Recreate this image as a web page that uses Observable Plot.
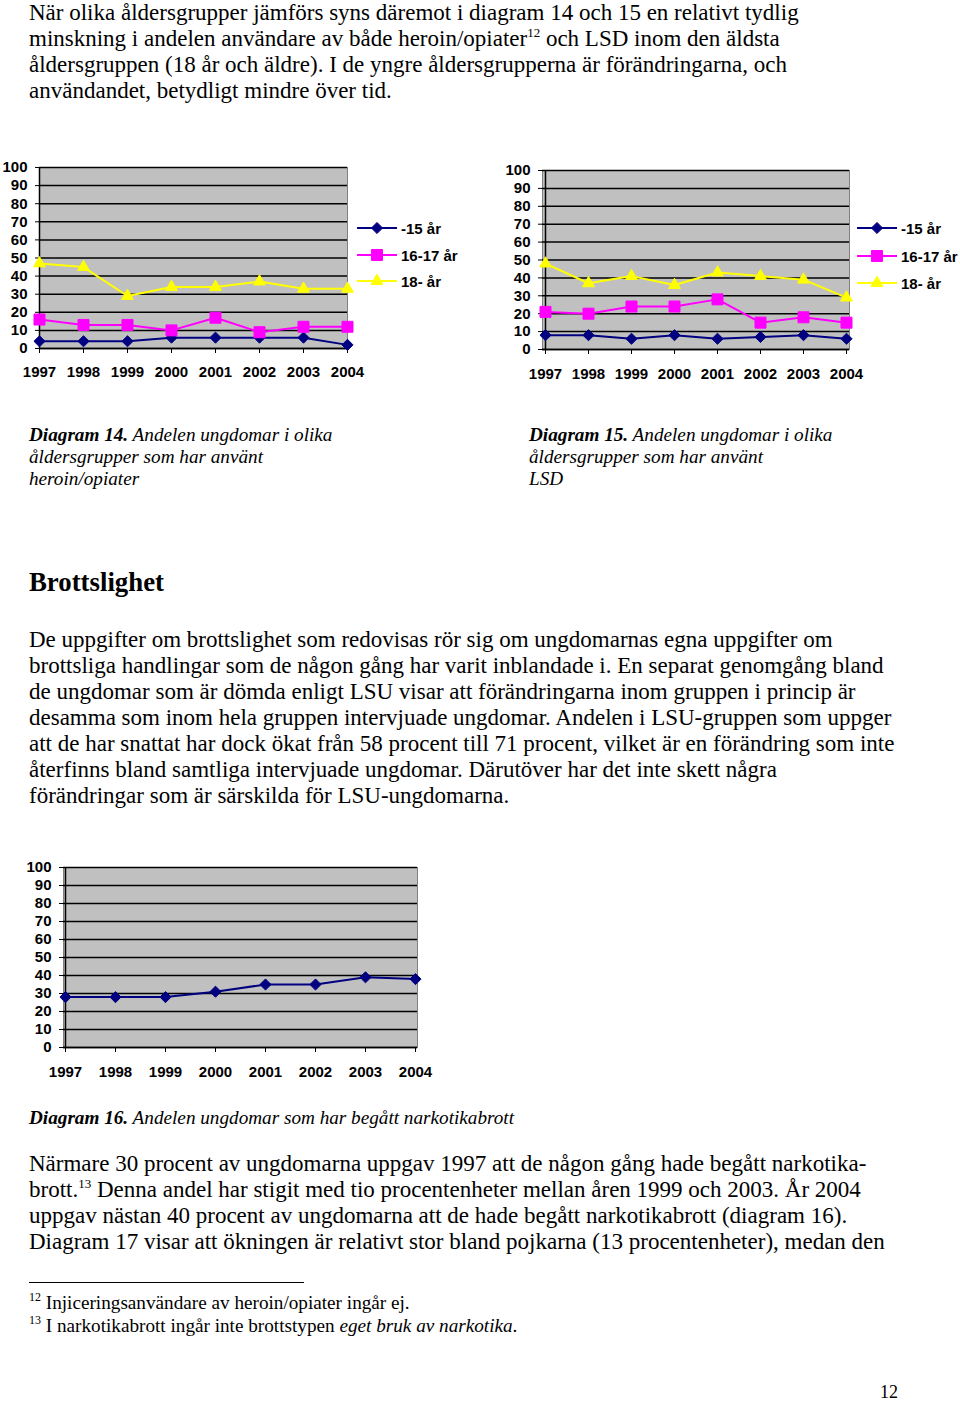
<!DOCTYPE html>
<html><head><meta charset="utf-8">
<script src="https://cdn.jsdelivr.net/npm/d3@7"></script>
<script src="https://cdn.jsdelivr.net/npm/@observablehq/plot@0.6"></script>
<style>
html,body{margin:0;padding:0;background:#fff;}
body{width:960px;height:1401px;position:relative;overflow:hidden;font-family:"Liberation Serif","Times New Roman",serif;color:#000;}
.abs{position:absolute;}
.p{font-size:23px;line-height:26px;white-space:nowrap;}
.cap{font-size:19.2px;line-height:22px;font-style:italic;white-space:nowrap;}
.cap b{font-weight:bold;}
.fn{font-size:19.2px;line-height:23px;white-space:nowrap;}
sup{font-size:13px;vertical-align:0;position:relative;top:-9px;line-height:0;}
.fn sup{font-size:12px;top:-8px;}
.leg{font-family:"Liberation Sans",Arial,sans-serif;font-weight:bold;font-size:15px;white-space:nowrap;display:flex;align-items:center;height:16px;}
.leg svg{margin-right:4px;}
</style>
</head><body>

<div class="abs p" style="left:29px;top:0px">
<div>När olika åldersgrupper jämförs syns däremot i diagram 14 och 15 en relativt tydlig</div>
<div>minskning i andelen användare av både heroin/opiater<sup>12</sup> och LSD inom den äldsta</div>
<div>åldersgruppen (18 år och äldre). I de yngre åldersgrupperna är förändringarna, och</div>
<div>användandet, betydligt mindre över tid.</div>
</div>

<div id="c14" class="abs" style="left:0;top:155px"></div>
<div id="l14" class="abs" style="left:357px;top:0"></div>
<div id="c15" class="abs" style="left:500px;top:155px"></div>
<div id="l15" class="abs" style="left:857px;top:0"></div>

<div class="abs cap" style="left:29px;top:423.6px">
<div><b>Diagram 14.</b> Andelen ungdomar i olika</div>
<div>åldersgrupper som har använt</div>
<div>heroin/opiater</div>
</div>
<div class="abs cap" style="left:529px;top:423.6px">
<div><b>Diagram 15.</b> Andelen ungdomar i olika</div>
<div>åldersgrupper som har använt</div>
<div>LSD</div>
</div>

<div class="abs" style="left:29px;top:567px;font-size:26.8px;line-height:30px;font-weight:bold;white-space:nowrap">Brottslighet</div>

<div class="abs p" style="left:29px;top:627px">
<div>De uppgifter om brottslighet som redovisas rör sig om ungdomarnas egna uppgifter om</div>
<div>brottsliga handlingar som de någon gång har varit inblandade i. En separat genomgång bland</div>
<div>de ungdomar som är dömda enligt LSU visar att förändringarna inom gruppen i princip är</div>
<div>desamma som inom hela gruppen intervjuade ungdomar. Andelen i LSU-gruppen som uppger</div>
<div>att de har snattat har dock ökat från 58 procent till 71 procent, vilket är en förändring som inte</div>
<div>återfinns bland samtliga intervjuade ungdomar. Därutöver har det inte skett några</div>
<div>förändringar som är särskilda för LSU-ungdomarna.</div>
</div>

<div id="c16" class="abs" style="left:20px;top:855px"></div>

<div class="abs cap" style="left:29px;top:1106.6px">
<div><b>Diagram 16.</b> Andelen ungdomar som har begått narkotikabrott</div>
</div>

<div class="abs p" style="left:29px;top:1151px">
<div>Närmare 30 procent av ungdomarna uppgav 1997 att de någon gång hade begått narkotika-</div>
<div>brott.<sup>13</sup> Denna andel har stigit med tio procentenheter mellan åren 1999 och 2003. År 2004</div>
<div>uppgav nästan 40 procent av ungdomarna att de hade begått narkotikabrott (diagram 16).</div>
<div>Diagram 17 visar att ökningen är relativt stor bland pojkarna (13 procentenheter), medan den</div>
</div>

<div class="abs" style="left:29px;top:1282px;width:275px;height:1px;background:#000"></div>
<div class="abs fn" style="left:29px;top:1291px">
<div><sup>12</sup> Injiceringsanvändare av heroin/opiater ingår ej.</div>
<div><sup>13</sup> I narkotikabrott ingår inte brottstypen <i>eget bruk av narkotika</i>.</div>
</div>

<div class="abs" style="left:880px;top:1381px;font-size:18px;line-height:22px">12</div>

<script>
// ---- data ----
const years = ["1997","1998","1999","2000","2001","2002","2003","2004"];
const yTicks = [0,10,20,30,40,50,60,70,80,90,100];
const groups = ["-15 år","16-17 år","18- år"];
const colors = ["#000080","#ff00ff","#ffff00"];
const symbols = ["diamond2","square","triangle"];
const symbolSizes = [5, 6.2, 4.4];

// Diagram 14: heroin/opiater
const heroin15   = [4,4,4,6,6,6,6,2];
const heroin1617 = [16,13,13,10,17,9,12,12];
const heroin18   = [47,45,29,34,34,37,33,33];
// Diagram 15: LSD
const lsd15   = [8,8,6,8,6,7,8,6];
const lsd1617 = [21,20,24,24,28,15,18,15];
const lsd18   = [48,37,41,36,43,41,39,29];
// Diagram 16: narkotikabrott
const narko = [28,28,28,31,35,35,39,38];

function makeChart(series, idxs, m) {
  const marks = [
    Plot.frame({fill:"#c0c0c0", stroke:"#808080"}),
    Plot.gridY(yTicks, {stroke:"#000", strokeOpacity:1, strokeWidth:1.5}),
    Plot.ruleX([years[0]], {stroke:"#000", strokeWidth:1.5}),
    Plot.ruleY([0], {stroke:"#000", strokeWidth:1.5}),
    Plot.axisY({ticks: yTicks, tickSize:4, tickPadding:8, tickFormat: d => String(d)}),
    Plot.axisX({tickSize:5, tickPadding: m.xpad})
  ];
  series.forEach((vals, k) => {
    const i = idxs[k];
    const rows = vals.map((v, j) => ({year: years[j], value: v}));
    marks.push(Plot.lineY(rows, {x:"year", y:"value", stroke: colors[i], strokeWidth:2}));
    marks.push(Plot.dot(rows, {x:"year", y:"value", symbol: symbols[i], r: symbolSizes[i], fill: colors[i], stroke: colors[i], strokeWidth:1}));
  });
  return Plot.plot({
    width: m.width, height: m.height,
    marginLeft: m.left, marginRight: m.right, marginTop: m.top, marginBottom: m.bottom,
    x: {type:"point", domain: years, padding: 0, label: null},
    y: {domain:[0,100], label: null},
    style: {fontFamily:"'Liberation Sans', Arial, sans-serif", fontWeight:"bold", fontSize:"15px", color:"#000", background:"transparent", overflow:"visible"},
    marks
  });
}

document.getElementById("c14").appendChild(
  makeChart([heroin15, heroin1617, heroin18], [0,1,2], {width:370, height:235, left:39, right:23, top:12, bottom:42, xpad:13}));
document.getElementById("c15").appendChild(
  makeChart([lsd15, lsd1617, lsd18], [0,1,2], {width:370, height:237, left:42, right:21, top:15, bottom:43, xpad:13.5}));
document.getElementById("c16").appendChild(
  makeChart([narko], [0], {width:420, height:235, left:43, right:23, top:12, bottom:43, xpad:13.5}));

function legend(el, rowsY) {
  groups.forEach((g, i) => {
    const row = document.createElement("div");
    row.className = "leg";
    row.style.position = "absolute";
    row.style.left = "0px";
    row.style.top = (rowsY[i] - 8) + "px";
    const svg = d3.create("svg").attr("width", 40).attr("height", 16);
    svg.append("line").attr("x1",0).attr("x2",40).attr("y1",8).attr("y2",8).attr("stroke",colors[i]).attr("stroke-width",2);
    const sym = [d3.symbolDiamond2, d3.symbolSquare, d3.symbolTriangle][i];
    svg.append("path").attr("transform","translate(20,8)")
      .attr("d", d3.symbol(sym, Math.PI * symbolSizes[i] * symbolSizes[i])())
      .attr("fill", colors[i]).attr("stroke", colors[i]);
    row.appendChild(svg.node());
    const t = document.createElement("span");
    t.textContent = g;
    row.appendChild(t);
    el.appendChild(row);
  });
}
legend(document.getElementById("l14"), [228, 255, 281]);
legend(document.getElementById("l15"), [228, 256, 283]);
</script>
</body></html>
